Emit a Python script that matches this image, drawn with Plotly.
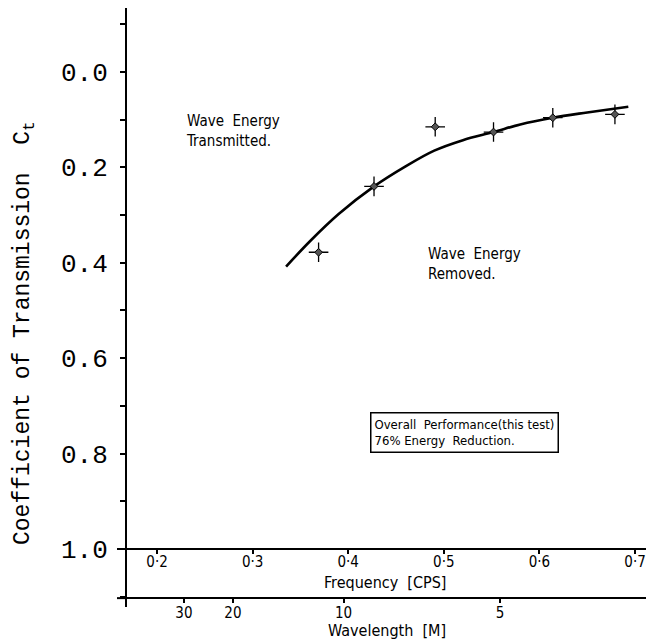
import plotly.graph_objects as go
import numpy as np

# ---- data ----
freq_pts = [0.369, 0.427, 0.491, 0.552, 0.614, 0.679]
ct_pts = [0.378, 0.240, 0.115, 0.126, 0.096, 0.089]

curve_freq = [0.335, 0.36, 0.39, 0.427, 0.46, 0.49, 0.52, 0.552, 0.58, 0.614, 0.65, 0.693]
curve_ct = [0.408, 0.355, 0.298, 0.240, 0.198, 0.165, 0.143, 0.126, 0.110, 0.096, 0.085, 0.073]

freq_ticks = [0.2, 0.3, 0.4, 0.5, 0.6, 0.7]
freq_ticktext = ["0·2", "0·3", "0·4", "0·5", "0·6", "0·7"]
wavelength_ticks = [30, 20, 10, 5]
wavelength_ticktext = ["30", "20", "10", "5"]

# deep-water relation L = g / (2 pi f^2) to place wavelength ticks on the frequency scale
G = 9.81
wl_pos = [float(np.sqrt(G / (2 * np.pi * L))) for L in wavelength_ticks]

# ---- layout geometry (body margin removed below, so figure starts at 0,0) ----
OFF = 0
W, H = 646, 643
ML, MR, MT, MB = 127, 0, 8, 36
PW, PH = W - ML - MR, H - MT - MB
XR = [0.1686, 0.7115]
YR = [1.1216, -0.134]   # reversed

def ypos(v):
    return (YR[0] - v) / (YR[0] - YR[1])

def px(xs):   # screen x -> paper
    return (xs - OFF - ML) / PW

def py(ys):   # screen y -> paper
    return (MT + PH - (ys - OFF)) / PH

LET = "DejaVu Sans Condensed, Liberation Sans Narrow, Arial Narrow, sans-serif"
MONO = "Courier New, Liberation Mono, monospace"

fig = go.Figure()
fig.add_trace(go.Scatter(x=curve_freq, y=curve_ct, mode="lines",
                         line=dict(color="black", width=2.6, shape="spline"),
                         hoverinfo="skip", showlegend=False))
fig.add_trace(go.Scatter(x=freq_pts, y=ct_pts, mode="markers",
                         marker=dict(symbol="cross-thin", size=14,
                                     line=dict(color="black", width=1.3)),
                         showlegend=False))
fig.add_trace(go.Scatter(x=freq_pts, y=ct_pts, mode="markers",
                         marker=dict(symbol="diamond", size=6, color="#555",
                                     line=dict(color="black", width=1)),
                         showlegend=False))
# invisible trace to activate second x axis
fig.add_trace(go.Scatter(x=[XR[0]], y=[YR[0]], xaxis="x2", mode="markers",
                         marker=dict(opacity=0), hoverinfo="skip", showlegend=False))

fig.update_layout(
    width=W, height=H,
    margin=dict(l=ML, r=MR, t=MT, b=MB, autoexpand=False),
    paper_bgcolor="white", plot_bgcolor="white",
    xaxis=dict(range=XR, anchor="free", position=ypos(1.0), side="bottom",
               tickvals=freq_ticks, ticktext=freq_ticktext, automargin=False,
               showline=True, linecolor="black", linewidth=2,
               ticks="outside", ticklen=4, tickcolor="black", tickwidth=1.5,
               showgrid=False, zeroline=False, ticklabelstandoff=-5,
               ticklabeloverflow="allow",
               tickfont=dict(family=LET, size=15, color="black")),
    xaxis2=dict(range=XR, overlaying="x", anchor="free", position=ypos(1.103), side="bottom",
                tickvals=wl_pos, ticktext=wavelength_ticktext, automargin=False,
                showline=True, linecolor="black", linewidth=2,
                ticks="outside", ticklen=4, tickcolor="black", tickwidth=1.5,
                showgrid=False, zeroline=False, ticklabelstandoff=-3,
                ticklabeloverflow="allow",
                tickfont=dict(family=LET, size=15, color="black")),
    yaxis=dict(range=YR, tick0=0, dtick=0.2, tickformat=".1f", automargin=False,
               showline=True, linecolor="black", linewidth=2,
               ticks="outside", ticklen=5, tickcolor="black", tickwidth=1.5,
               minor=dict(dtick=0.1, tick0=0, ticks="outside", ticklen=5,
                          tickcolor="black", tickwidth=1.5),
               showgrid=False, zeroline=False, ticklabelstandoff=7,
               tickfont=dict(family=MONO, size=26, color="black")),
    showlegend=False,
)

# small stubs of the horizontal axes to the left of the vertical axis
for v in (1.0, 1.103):
    fig.add_shape(type="line", xref="paper", yref="y", x0=px(117), x1=0, y0=v, y1=v,
                  line=dict(color="black", width=2))

def note(text, xs, ys, size, xanchor="center", family=LET, **kw):
    return dict(text=text, x=px(xs), y=py(ys), xref="paper", yref="paper",
                xanchor=xanchor, yanchor="middle", align="left", showarrow=False,
                font=dict(family=family, size=size, color="black"), **kw)

ann = [
    note("Coefficient\u00a0of\u00a0Transmission\u00a0\u00a0C<sub>t</sub>", 24, 333, 23,
         family=MONO, textangle=-90),
    note("Frequency\u00a0\u00a0[CPS]", 385, 582, 16),
    note("Wavelength\u00a0\u00a0[M]", 387, 630, 16),
    note("Wave\u00a0\u00a0Energy<br>Transmitted.", 184, 131, 15, xanchor="left"),
    note("Wave\u00a0\u00a0Energy<br>Removed.", 426, 264, 15, xanchor="left"),
    note("Overall\u00a0\u00a0Performance(this\u00a0test)<br>76%\u00a0Energy\u00a0\u00a0Reduction.",
         370, 432, 13, xanchor="left",
         bordercolor="black", borderwidth=1.5, borderpad=3, bgcolor="white"),
]
fig.update_layout(annotations=ann)

fig.write_html("out.html", config={"displayModeBar": False},
               post_script="document.body.style.margin='0';document.body.style.overflow='hidden';")
